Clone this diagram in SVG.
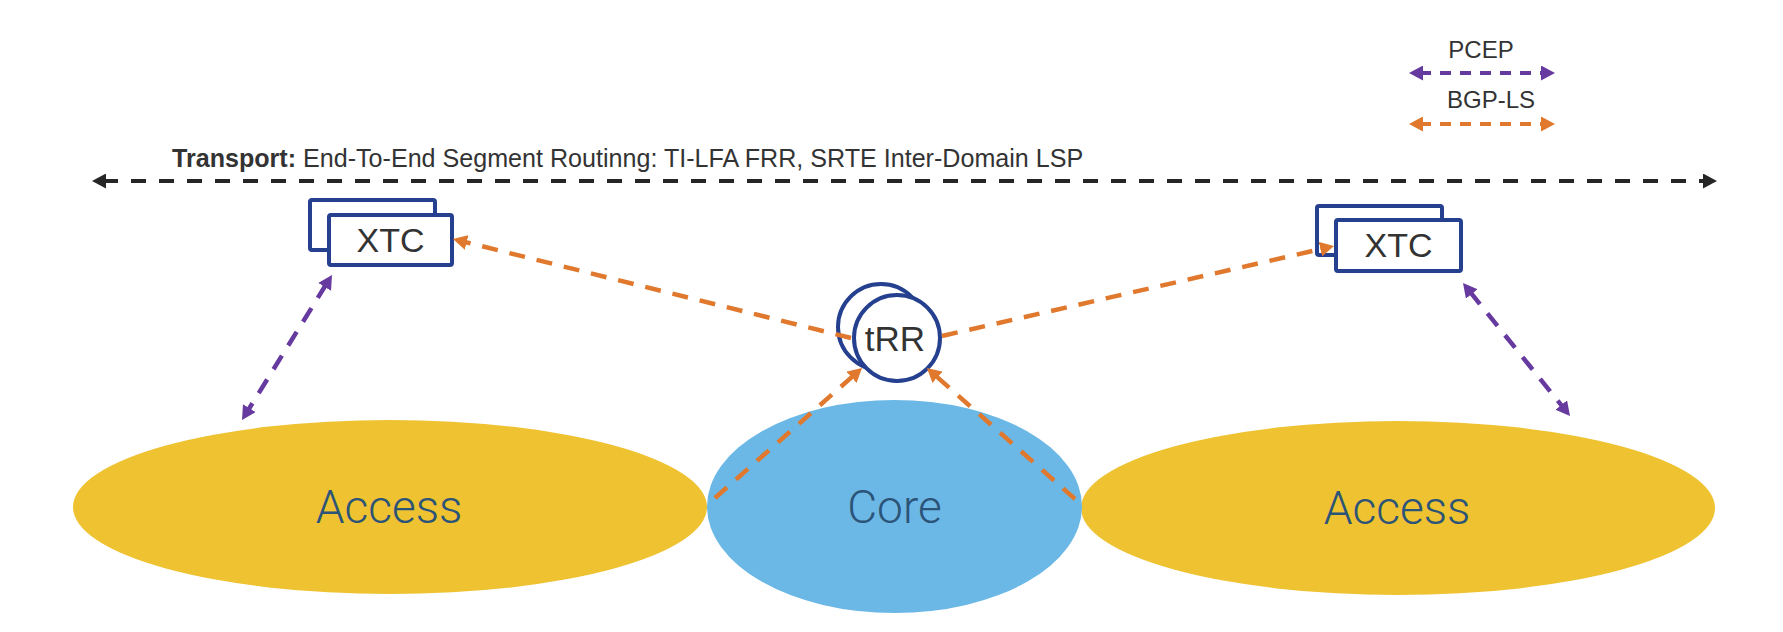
<svg xmlns="http://www.w3.org/2000/svg" width="1783" height="632" viewBox="0 0 1783 632">
<defs>
<style>
.txt{font-family:"Liberation Sans",Arial,sans-serif;fill:#333333}
.big{font-family:Roboto,"Liberation Sans",Arial,sans-serif;font-weight:300;fill:#2c5378;font-size:46px;text-anchor:middle}
.box{fill:#ffffff;stroke:#24408e;stroke-width:4}
.blk{stroke:#262626;stroke-width:4;stroke-dasharray:15 13;fill:none}
.pur{stroke:#673aa0;stroke-width:4.5;stroke-dasharray:16 12;fill:none}
.org{stroke:#e0782d;stroke-width:4.5;stroke-dasharray:16 12;fill:none}
.leg{stroke-width:4;stroke-dasharray:11 9}
</style>
<marker id="aBlk" markerUnits="userSpaceOnUse" markerWidth="14" markerHeight="15" viewBox="0 0 14 15" refX="3" refY="7.5" orient="auto-start-reverse"><path d="M0,0 L14,7.5 L0,15 Z" fill="#262626"/></marker>
<marker id="aPur" markerUnits="userSpaceOnUse" markerWidth="14" markerHeight="15" viewBox="0 0 14 15" refX="3" refY="7.5" orient="auto-start-reverse"><path d="M0,0 L14,7.5 L0,15 Z" fill="#673aa0"/></marker>
<marker id="aOrg" markerUnits="userSpaceOnUse" markerWidth="14" markerHeight="15" viewBox="0 0 14 15" refX="3" refY="7.5" orient="auto-start-reverse"><path d="M0,0 L14,7.5 L0,15 Z" fill="#e0782d"/></marker>
</defs>
<rect width="1783" height="632" fill="#ffffff"/>

<g id="access-left">
<ellipse cx="390" cy="507" rx="317" ry="87" fill="#eec231"/>
<text class="big" x="389" y="523">Access</text>
</g>
<g id="access-right">
<ellipse cx="1398" cy="508" rx="317" ry="87" fill="#eec231"/>
<text class="big" x="1397" y="524">Access</text>
</g>
<g id="core">
<ellipse cx="894.5" cy="506.5" rx="187.5" ry="106.5" fill="#6bb8e6"/>
<text class="big" x="894.5" y="523">Core</text>
</g>

<g id="xtc-left">
<rect class="box" x="310" y="200" width="125" height="50" rx="2"/>
<rect class="box" x="329" y="215" width="123" height="50" rx="2"/>
<text class="txt" x="390.5" y="252" font-size="34" text-anchor="middle">XTC</text>
</g>
<g id="xtc-right">
<rect class="box" x="1317" y="206" width="125" height="49" rx="2"/>
<rect class="box" x="1336" y="220" width="125" height="51" rx="2"/>
<text class="txt" x="1398.5" y="257" font-size="34" text-anchor="middle">XTC</text>
</g>
<g id="trr">
<circle class="box" cx="881" cy="327" r="43"/>
<circle class="box" cx="897" cy="338" r="43"/>
<text class="txt" x="895" y="351" font-size="35" text-anchor="middle">tRR</text>
</g>

<g id="legend">
<text class="txt" x="1481" y="58" font-size="24" text-anchor="middle">PCEP</text>
<text class="txt" x="1491" y="108" font-size="24" text-anchor="middle">BGP-LS</text>
</g>
<g id="transport-label">
<text class="txt" x="172" y="167" font-size="25.1"><tspan font-weight="bold">Transport:</tspan> End-To-End Segment Routinng: TI-LFA FRR, SRTE Inter-Domain LSP</text>
</g>

<g id="connectors">
<line class="blk" x1="103" y1="181" x2="1706" y2="181" marker-start="url(#aBlk)" marker-end="url(#aBlk)"/>
<line class="pur leg" x1="1420" y1="73" x2="1544" y2="73" marker-start="url(#aPur)" marker-end="url(#aPur)"/>
<line class="org leg" x1="1420" y1="124" x2="1544" y2="124" marker-start="url(#aOrg)" marker-end="url(#aOrg)"/>
<line class="pur" x1="326.2" y1="284.3" x2="247.8" y2="410.7" marker-start="url(#aPur)" marker-end="url(#aPur)"/>
<line class="pur" x1="1469.9" y1="291.6" x2="1563.1" y2="407.4" marker-start="url(#aPur)" marker-end="url(#aPur)"/>
<line class="org" x1="851" y1="338" x2="463.7" y2="241.7" marker-end="url(#aOrg)"/>
<line class="org" x1="942" y1="336" x2="1323.3" y2="248.5" marker-end="url(#aOrg)"/>
<line class="org" x1="715" y1="498" x2="853.8" y2="375.3" marker-end="url(#aOrg)"/>
<line class="org" x1="1075" y1="499" x2="935.2" y2="375.3" marker-end="url(#aOrg)"/>
</g>
</svg>
